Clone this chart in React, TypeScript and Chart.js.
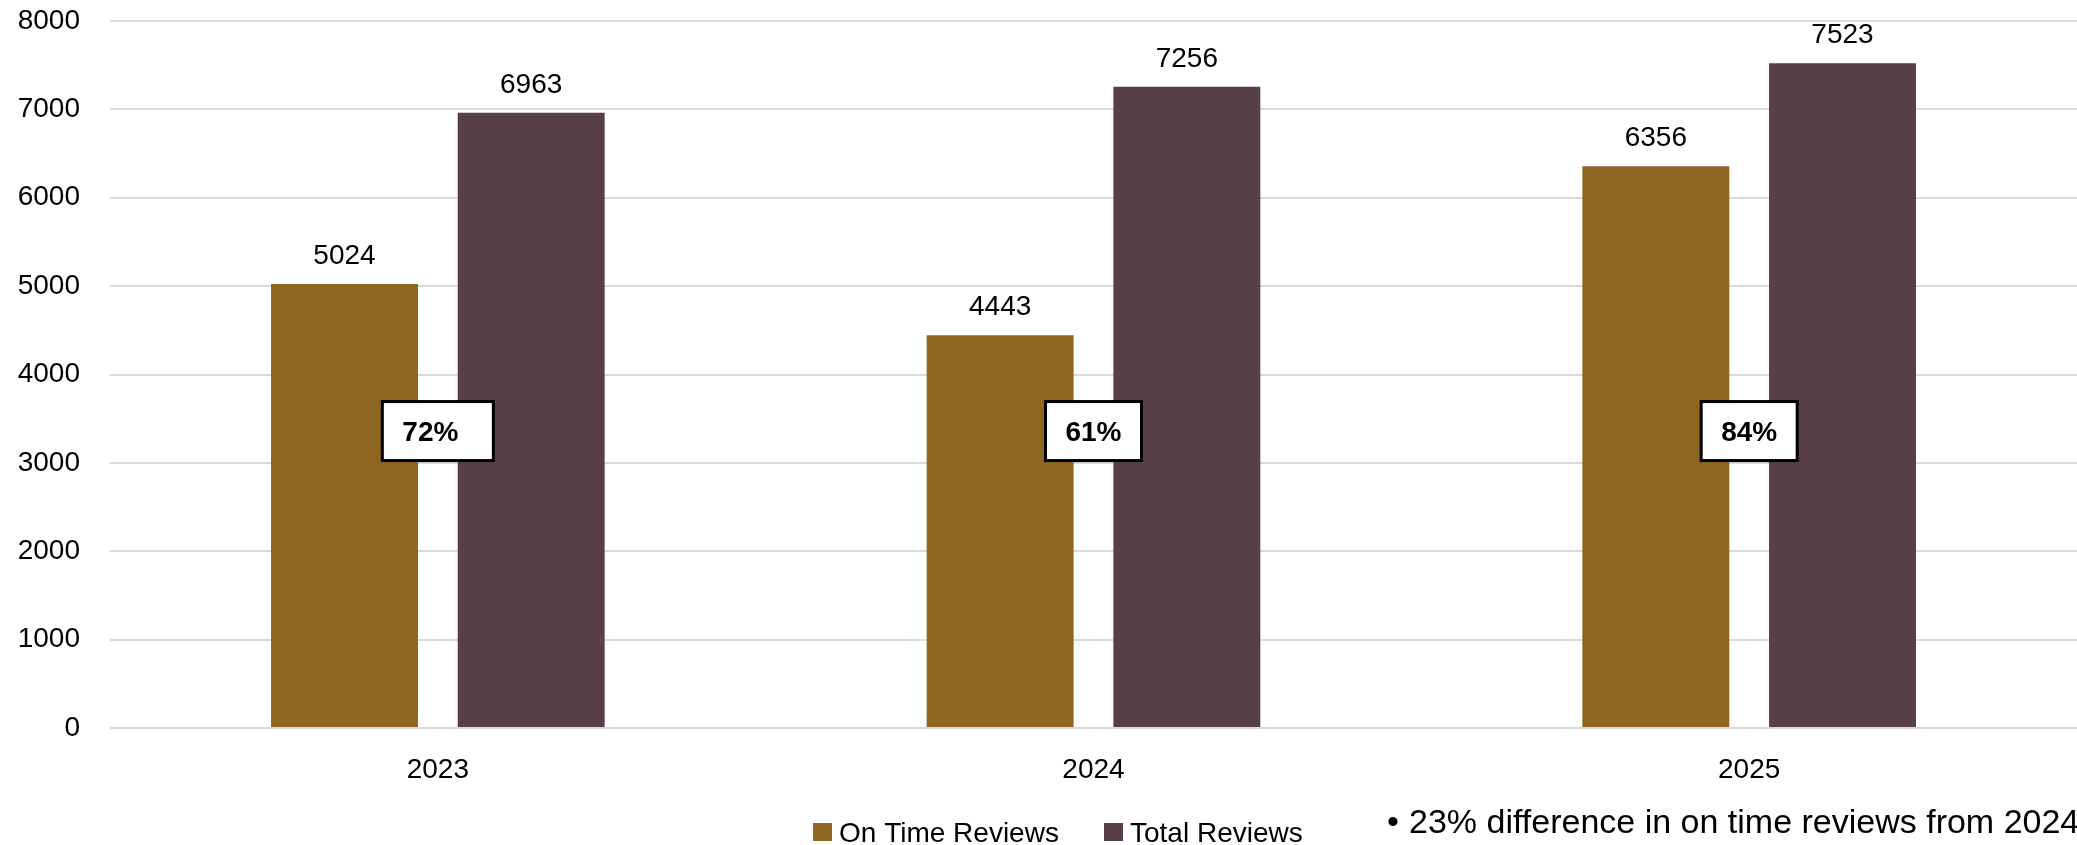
import { useEffect, useRef } from "react";
import { Chart, registerables } from "chart.js";

Chart.register(...registerables);

const categories = ["2023", "2024", "2025"];
const onTimeReviews = [5024, 4443, 6356];
const totalReviews = [6963, 7256, 7523];
const percentLabels = ["72%", "61%", "84%"];
const seriesNames = ["On Time Reviews", "Total Reviews"];
const noteText = "23% difference in on time reviews from 2024";

const FONT = '"Liberation Sans", Arial, sans-serif';
const COLOR_ONTIME = "#8F6522";
const COLOR_TOTAL = "#573F47";

const overlayPlugin = {
  id: "overlay",
  afterDraw(chart: any) {
    const ctx = chart.ctx as CanvasRenderingContext2D;
    ctx.save();
    // data labels
    ctx.fillStyle = "#000";
    ctx.font = `28px ${FONT}`;
    ctx.textAlign = "center";
    ctx.textBaseline = "alphabetic";
    chart.data.datasets.forEach((ds: any, di: number) => {
      const meta = chart.getDatasetMeta(di);
      meta.data.forEach((el: any, i: number) => {
        ctx.fillText(String(ds.data[i]), el.x, el.y - 20);
      });
    });
    // percentage boxes
    const xs = chart.scales.x;
    const ys = chart.scales.y;
    const boxWidths = [111, 96, 96];
    const boxH = 59;
    const cy = ys.getPixelForValue(3360);
    percentLabels.forEach((lbl, i) => {
      const cx = xs.getPixelForValue(i);
      const w = boxWidths[i];
      ctx.fillStyle = "#fff";
      ctx.fillRect(cx - w / 2, cy - boxH / 2, w, boxH);
      ctx.strokeStyle = "#000";
      ctx.lineWidth = 3;
      ctx.strokeRect(cx - w / 2, cy - boxH / 2, w, boxH);
      ctx.fillStyle = "#000";
      ctx.font = `bold 28px ${FONT}`;
      ctx.textAlign = "center";
      ctx.textBaseline = "middle";
      ctx.fillText(lbl, cx - (w - 96) / 2, cy + 2);
    });
    // legend
    ctx.textAlign = "left";
    ctx.textBaseline = "alphabetic";
    ctx.font = `28px ${FONT}`;
    const legendItems = [
      { x: 813, color: COLOR_ONTIME, text: seriesNames[0] },
      { x: 1104, color: COLOR_TOTAL, text: seriesNames[1] },
    ];
    legendItems.forEach((it) => {
      ctx.fillStyle = it.color;
      ctx.fillRect(it.x, 823, 19, 18);
      ctx.fillStyle = "#000";
      ctx.fillText(it.text, it.x + 26, 842);
    });
    // note
    ctx.font = `34px ${FONT}`;
    ctx.fillText("\u2022", 1387, 833);
    ctx.fillText(noteText, 1409, 833);
    ctx.restore();
  },
};

export default function App() {
  const ref = useRef<HTMLCanvasElement | null>(null);
  useEffect(() => {
    if (!ref.current) return;
    const chart = new Chart(ref.current, {
      type: "bar",
      data: {
        labels: categories,
        datasets: [
          {
            label: seriesNames[0],
            data: onTimeReviews,
            backgroundColor: COLOR_ONTIME,
            barPercentage: 0.787,
            categoryPercentage: 0.5695,
          },
          {
            label: seriesNames[1],
            data: totalReviews,
            backgroundColor: COLOR_TOTAL,
            barPercentage: 0.787,
            categoryPercentage: 0.5695,
          },
        ],
      },
      options: {
        responsive: false,
        animation: false,
        devicePixelRatio: 1,
        layout: { autoPadding: false, padding: { left: 18, top: 21, right: 0, bottom: 58 } },
        plugins: {
          legend: { display: false },
          tooltip: { enabled: false },
        },
        scales: {
          x: {
            grid: { display: false, drawTicks: false },
            border: { display: false },
            ticks: { color: "#000", font: { family: FONT, size: 28 }, padding: 25 },
            afterFit: (scale: any) => {
              scale.height = 59;
              scale.paddingLeft = 0;
              scale.paddingRight = 0;
            },
          },
          y: {
            min: 0,
            max: 8000,
            ticks: {
              stepSize: 1000,
              color: "#000",
              font: { family: FONT, size: 28 },
              padding: 30,
              callback: (v: any) => String(v),
            },
            grid: { color: "#d9d9d9", lineWidth: 2, drawTicks: false },
            border: { display: false },
            afterFit: (scale: any) => {
              scale.width = 92;
              scale.paddingTop = 0;
              scale.paddingBottom = 0;
            },
          },
        },
      },
      plugins: [overlayPlugin],
    });
    return () => chart.destroy();
  }, []);
  return (
    <div style={{ position: "fixed", left: 0, top: 0, width: 2077, height: 845, background: "#fff" }}>
      <canvas ref={ref} width={2077} height={845} style={{ width: 2077, height: 845, display: "block" }} />
    </div>
  );
}
